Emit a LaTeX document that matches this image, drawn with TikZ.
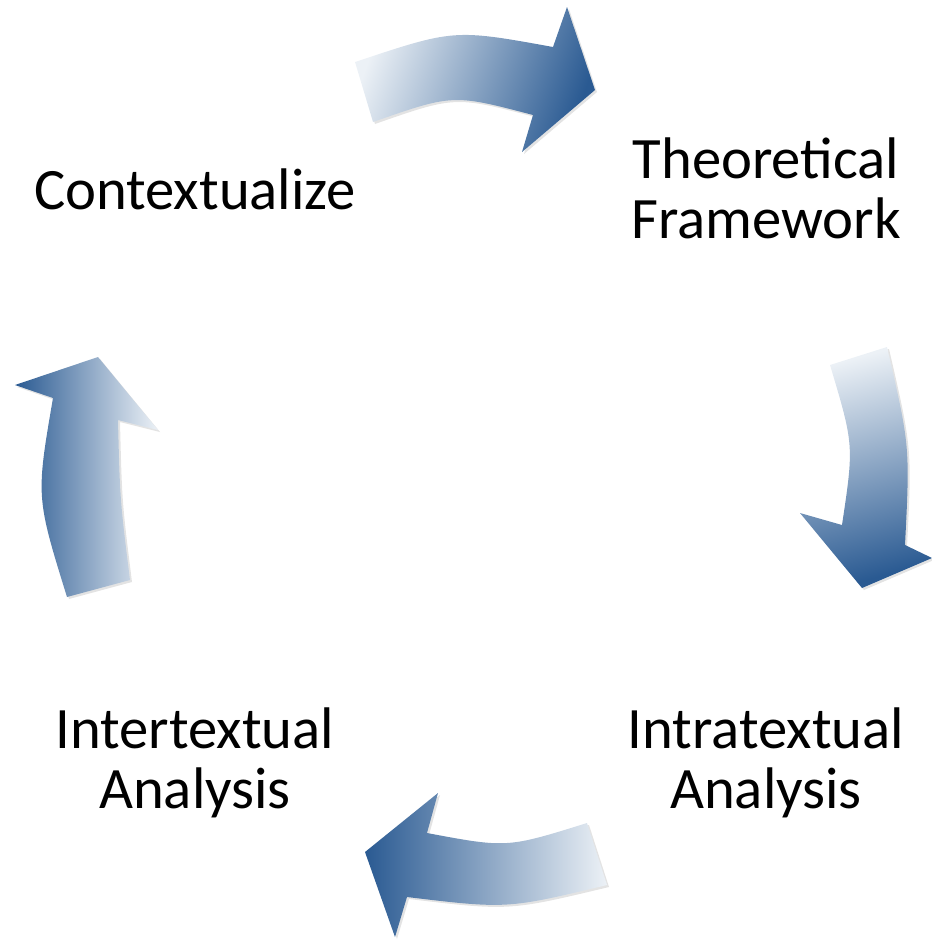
\documentclass[tikz,border=0pt]{standalone}
\usepackage{fontspec}
\setmainfont{Carlito}
\usetikzlibrary{shadows}
\definecolor{arrdark}{RGB}{42,90,146}
\definecolor{arrlight}{RGB}{236,241,246}
\begin{document}
\begin{tikzpicture}[x=0.75pt,y=-0.75pt,
  lbl/.style={inner sep=0pt,align=center,font=\fontsize{44}{45}\selectfont,anchor=base},
  blockarrow/.style={draw=none,drop shadow={opacity=0.22,shadow xshift=1.5pt,shadow yshift=-1.5pt}}]
\useasboundingbox (0,0) rectangle (932,940);
% labels
\node[lbl] (ctx) at (195,209) {Contextualize};
\node[lbl] (theo) at (766,238) {Theoretical\\Framework};
\node[lbl] (intra) at (766,808) {Intratextual\\Analysis};
\node[lbl] (inter) at (195,808) {Intertextual\\Analysis};
% top arrow
\path[blockarrow,top color=arrlight,bottom color=arrdark,shading angle=70]
  (355,62) .. controls (454,29) .. (553,47) -- (567,7) -- (595,90) -- (522,152)
  -- (533,115) .. controls (453,94) .. (373,122) -- cycle;
% right arrow
\path[blockarrow,top color=arrlight,bottom color=arrdark,shading angle=15]
  (830,365) -- (887,347) .. controls (910,446) .. (905,545) -- (932,558) -- (862,588)
  -- (800,513) -- (842,525) .. controls (854,445) .. (830,365) -- cycle;
% bottom arrow
\path[blockarrow,left color=arrdark,right color=arrlight]
  (587,823) -- (607,885) .. controls (507,909) .. (407,897) -- (395,937) -- (365,852)
  -- (438,793) -- (427,833) .. controls (507,848) .. (587,823) -- cycle;
% left arrow
\path[blockarrow,left color=arrdark,right color=arrlight]
  (67,597) -- (130,580) .. controls (120,500) .. (118,420) -- (158,430) -- (98,357)
  -- (15,385) -- (53,398) .. controls (36,497) .. (67,597) -- cycle;
\end{tikzpicture}
\end{document}
